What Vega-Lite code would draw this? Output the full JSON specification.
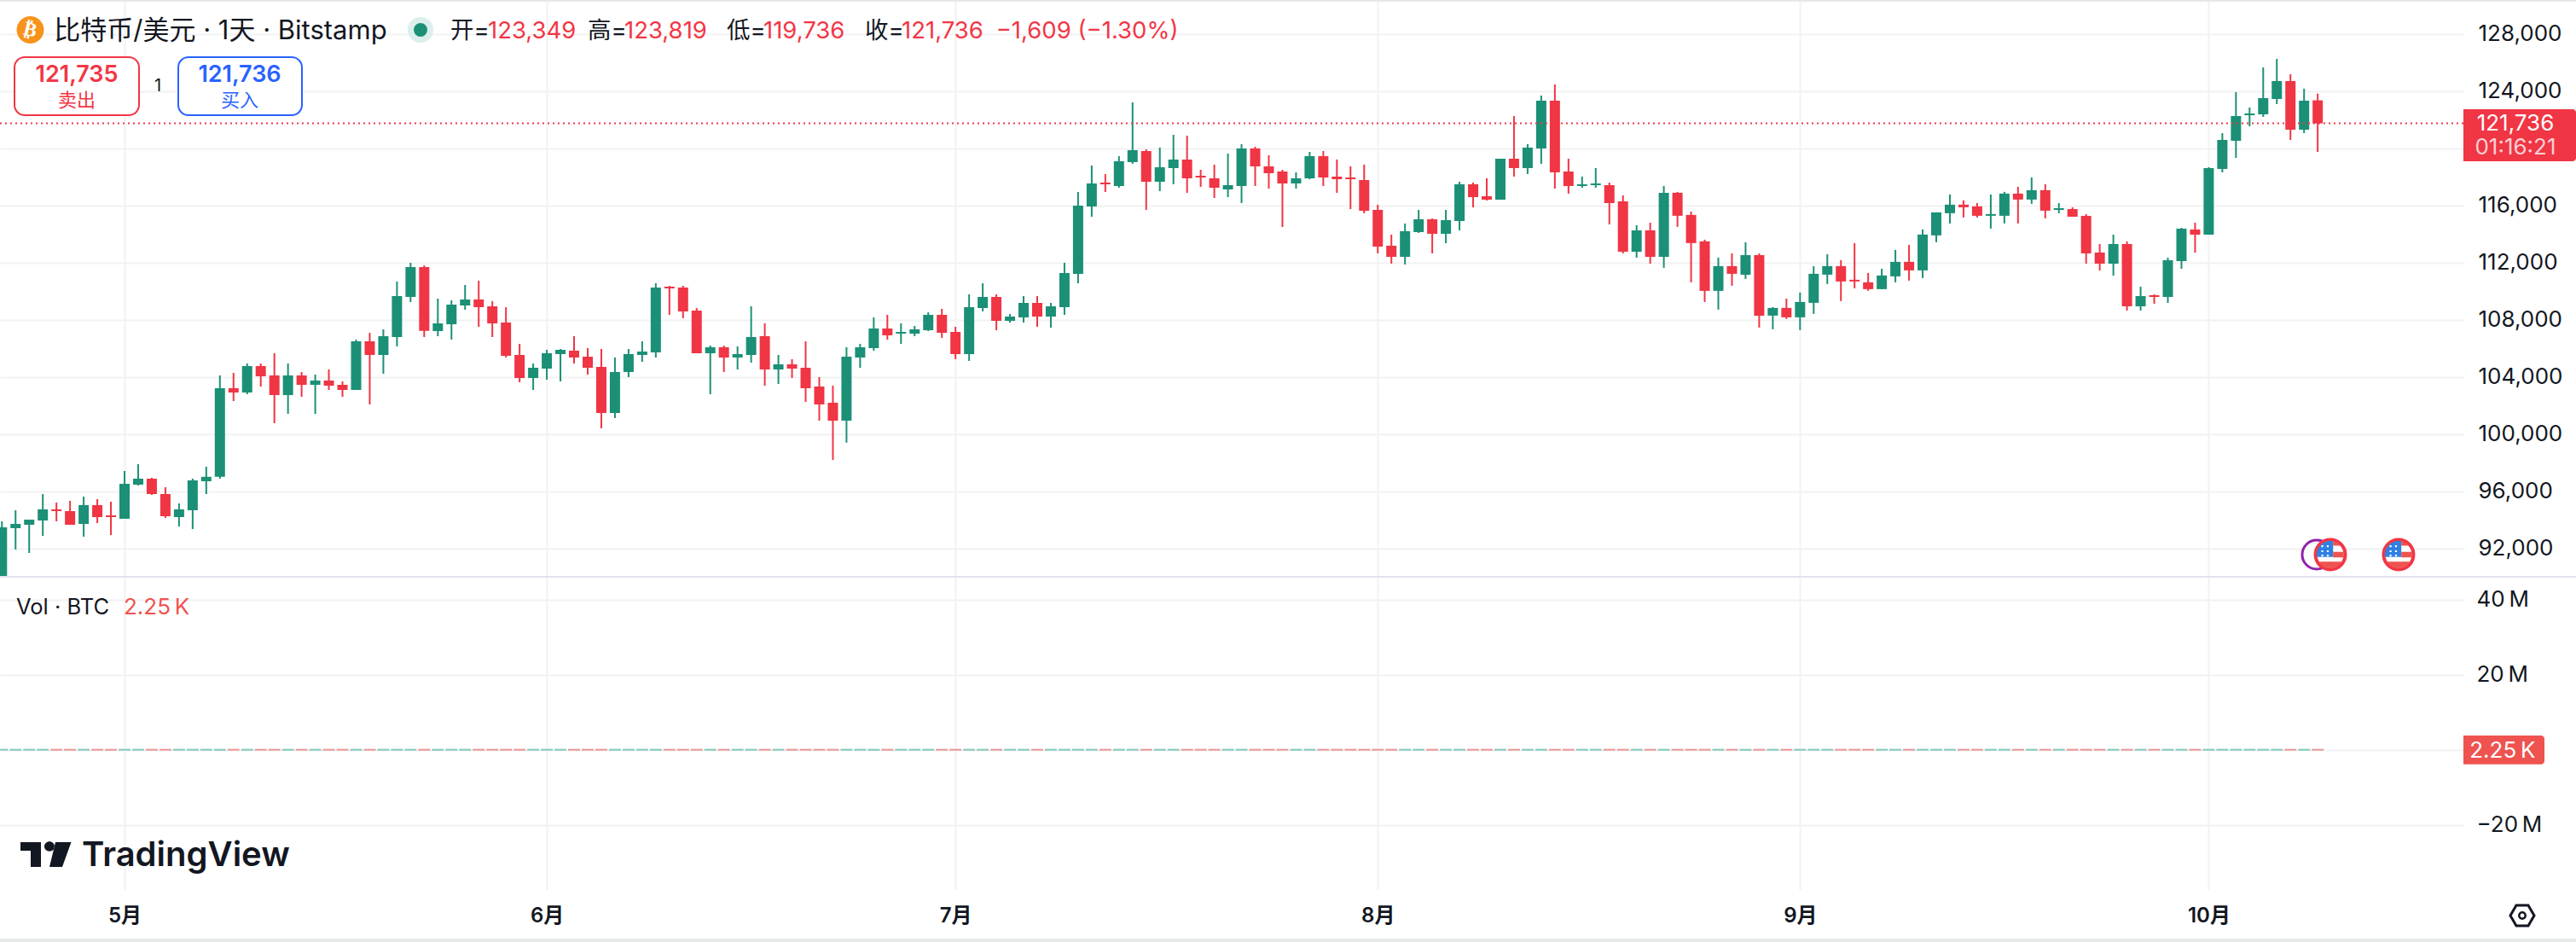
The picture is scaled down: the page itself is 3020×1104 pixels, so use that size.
{
"$schema":"https://vega.github.io/schema/vega-lite/v6.json",
"width":2888,"height":1043,
"autosize":"none",
"padding":{"left":0,"top":0,"right":132,"bottom":61},
"background":"white",
"config":{"view":{"stroke":null},"axis":{"title":null,"domain":false,"ticks":false,"gridColor":"#f1f2f3","gridWidth":2}},
"data":{"values":[{}]},
"datasets":{"candles":[
{"date":"2025-04-22","open":90012,"high":93892,"low":90012,"close":93474,"volume":3000},
{"date":"2025-04-23","open":93415,"high":94668,"low":91922,"close":93713,"volume":3000},
{"date":"2025-04-24","open":93654,"high":94012,"low":91683,"close":94012,"volume":3000},
{"date":"2025-04-25","open":93952,"high":95803,"low":92877,"close":94728,"volume":3000},
{"date":"2025-04-26","open":94728,"high":95206,"low":93892,"close":94608,"volume":3000},
{"date":"2025-04-27","open":94608,"high":95325,"low":93654,"close":93654,"volume":3000},
{"date":"2025-04-28","open":93713,"high":95624,"low":92818,"close":95027,"volume":3000},
{"date":"2025-04-29","open":95027,"high":95444,"low":93773,"close":94191,"volume":3000},
{"date":"2025-04-30","open":94310,"high":95265,"low":92937,"close":94191,"volume":3000},
{"date":"2025-05-01","open":94071,"high":97415,"low":94071,"close":96519,"volume":3000},
{"date":"2025-05-02","open":96460,"high":97892,"low":96400,"close":96877,"volume":3000},
{"date":"2025-05-03","open":96877,"high":96937,"low":95743,"close":95803,"volume":3000},
{"date":"2025-05-04","open":95803,"high":96280,"low":94131,"close":94250,"volume":3000},
{"date":"2025-05-05","open":94191,"high":95146,"low":93534,"close":94728,"volume":3000},
{"date":"2025-05-06","open":94668,"high":96877,"low":93355,"close":96758,"volume":3000},
{"date":"2025-05-07","open":96698,"high":97713,"low":95803,"close":97007,"volume":3000},
{"date":"2025-05-08","open":97007,"high":104101,"low":96877,"close":103205,"volume":3000},
{"date":"2025-05-09","open":103205,"high":104280,"low":102310,"close":102907,"volume":3000},
{"date":"2025-05-10","open":102907,"high":104937,"low":102788,"close":104757,"volume":3000},
{"date":"2025-05-11","open":104757,"high":104937,"low":103325,"close":104041,"volume":3000},
{"date":"2025-05-12","open":104101,"high":105653,"low":100758,"close":102728,"volume":3000},
{"date":"2025-05-13","open":102728,"high":104937,"low":101414,"close":104101,"volume":3000},
{"date":"2025-05-14","open":104101,"high":104340,"low":102608,"close":103444,"volume":3000},
{"date":"2025-05-15","open":103444,"high":104161,"low":101414,"close":103743,"volume":3000},
{"date":"2025-05-16","open":103743,"high":104519,"low":103086,"close":103385,"volume":3000},
{"date":"2025-05-17","open":103444,"high":103683,"low":102608,"close":103086,"volume":3000},
{"date":"2025-05-18","open":103086,"high":106608,"low":103086,"close":106489,"volume":3000},
{"date":"2025-05-19","open":106489,"high":107086,"low":102071,"close":105534,"volume":3000},
{"date":"2025-05-20","open":105534,"high":107325,"low":104220,"close":106847,"volume":3000},
{"date":"2025-05-21","open":106788,"high":110668,"low":106131,"close":109653,"volume":3000},
{"date":"2025-05-22","open":109593,"high":111981,"low":109235,"close":111683,"volume":3000},
{"date":"2025-05-23","open":111683,"high":111802,"low":106787,"close":107225,"volume":3000},
{"date":"2025-05-24","open":107205,"high":109474,"low":106847,"close":107743,"volume":3000},
{"date":"2025-05-25","open":107683,"high":109355,"low":106608,"close":109056,"volume":3000},
{"date":"2025-05-26","open":108996,"high":110429,"low":108698,"close":109414,"volume":3000},
{"date":"2025-05-27","open":109414,"high":110728,"low":107504,"close":108877,"volume":3000},
{"date":"2025-05-28","open":108937,"high":109295,"low":106787,"close":107743,"volume":3000},
{"date":"2025-05-29","open":107802,"high":108877,"low":105355,"close":105474,"volume":3000},
{"date":"2025-05-30","open":105534,"high":106310,"low":103623,"close":103922,"volume":3000},
{"date":"2025-05-31","open":103922,"high":104937,"low":103086,"close":104638,"volume":3000},
{"date":"2025-06-01","open":104579,"high":105892,"low":103802,"close":105653,"volume":3000},
{"date":"2025-06-02","open":105593,"high":105951,"low":103683,"close":105892,"volume":3000},
{"date":"2025-06-03","open":105832,"high":106847,"low":104937,"close":105355,"volume":3000},
{"date":"2025-06-04","open":105414,"high":106011,"low":104161,"close":104638,"volume":3000},
{"date":"2025-06-05","open":104698,"high":105951,"low":100400,"close":101474,"volume":3000},
{"date":"2025-06-06","open":101474,"high":105355,"low":101116,"close":104340,"volume":3000},
{"date":"2025-06-07","open":104340,"high":105951,"low":103982,"close":105593,"volume":3000},
{"date":"2025-06-08","open":105534,"high":106489,"low":105056,"close":105772,"volume":3000},
{"date":"2025-06-09","open":105713,"high":110548,"low":105355,"close":110250,"volume":3000},
{"date":"2025-06-10","open":110310,"high":110370,"low":108340,"close":110190,"volume":3000},
{"date":"2025-06-11","open":110250,"high":110370,"low":108101,"close":108578,"volume":3000},
{"date":"2025-06-12","open":108638,"high":108817,"low":105653,"close":105653,"volume":3000},
{"date":"2025-06-13","open":105653,"high":106190,"low":102788,"close":106071,"volume":3000},
{"date":"2025-06-14","open":106071,"high":106190,"low":104340,"close":105355,"volume":3000},
{"date":"2025-06-15","open":105355,"high":106131,"low":104519,"close":105593,"volume":3000},
{"date":"2025-06-16","open":105534,"high":108937,"low":104997,"close":106787,"volume":3000},
{"date":"2025-06-17","open":106847,"high":107743,"low":103385,"close":104519,"volume":3000},
{"date":"2025-06-18","open":104519,"high":105534,"low":103504,"close":104877,"volume":3000},
{"date":"2025-06-19","open":104877,"high":105235,"low":103922,"close":104579,"volume":3000},
{"date":"2025-06-20","open":104638,"high":106489,"low":102250,"close":103205,"volume":3000},
{"date":"2025-06-21","open":103325,"high":103982,"low":100937,"close":102071,"volume":3000},
{"date":"2025-06-22","open":102190,"high":103385,"low":98191,"close":100937,"volume":3000},
{"date":"2025-06-23","open":100937,"high":106072,"low":99400,"close":105415,"volume":3000},
{"date":"2025-06-24","open":105356,"high":106311,"low":104639,"close":106072,"volume":3000},
{"date":"2025-06-25","open":106012,"high":108162,"low":105833,"close":107385,"volume":3000},
{"date":"2025-06-26","open":107385,"high":108341,"low":106609,"close":106908,"volume":3000},
{"date":"2025-06-27","open":107027,"high":107744,"low":106311,"close":107147,"volume":3000},
{"date":"2025-06-28","open":107027,"high":107565,"low":106848,"close":107326,"volume":3000},
{"date":"2025-06-29","open":107266,"high":108520,"low":107206,"close":108341,"volume":3000},
{"date":"2025-06-30","open":108341,"high":108759,"low":106729,"close":107087,"volume":3000},
{"date":"2025-07-01","open":107147,"high":107505,"low":105236,"close":105595,"volume":3000},
{"date":"2025-07-02","open":105595,"high":109773,"low":105117,"close":108878,"volume":3000},
{"date":"2025-07-03","open":108818,"high":110550,"low":108580,"close":109594,"volume":3000},
{"date":"2025-07-04","open":109594,"high":109773,"low":107266,"close":107923,"volume":3000},
{"date":"2025-07-05","open":107923,"high":108400,"low":107803,"close":108221,"volume":3000},
{"date":"2025-07-06","open":108162,"high":109654,"low":107803,"close":109176,"volume":3000},
{"date":"2025-07-07","open":109176,"high":109654,"low":107505,"close":108221,"volume":3000},
{"date":"2025-07-08","open":108221,"high":109176,"low":107445,"close":108938,"volume":3000},
{"date":"2025-07-09","open":108878,"high":111982,"low":108341,"close":111266,"volume":3000},
{"date":"2025-07-10","open":111206,"high":116938,"low":110550,"close":115982,"volume":3000},
{"date":"2025-07-11","open":115923,"high":118788,"low":115206,"close":117535,"volume":3000},
{"date":"2025-07-12","open":117594,"high":118191,"low":116938,"close":117475,"volume":3000},
{"date":"2025-07-13","open":117355,"high":119445,"low":117236,"close":119087,"volume":3000},
{"date":"2025-07-14","open":119027,"high":123206,"low":118908,"close":119863,"volume":3000},
{"date":"2025-07-15","open":119803,"high":119922,"low":115684,"close":117654,"volume":3000},
{"date":"2025-07-16","open":117654,"high":120042,"low":116997,"close":118669,"volume":3000},
{"date":"2025-07-17","open":118609,"high":120937,"low":117475,"close":119206,"volume":3000},
{"date":"2025-07-18","open":119206,"high":120878,"low":116878,"close":117893,"volume":3000},
{"date":"2025-07-19","open":118072,"high":118490,"low":117296,"close":117952,"volume":3000},
{"date":"2025-07-20","open":117893,"high":118848,"low":116520,"close":117236,"volume":3000},
{"date":"2025-07-21","open":117117,"high":119624,"low":116579,"close":117415,"volume":3000},
{"date":"2025-07-22","open":117355,"high":120281,"low":116161,"close":119982,"volume":3000},
{"date":"2025-07-23","open":119982,"high":120102,"low":117355,"close":118729,"volume":3000},
{"date":"2025-07-24","open":118729,"high":119505,"low":117176,"close":118251,"volume":3000},
{"date":"2025-07-25","open":118370,"high":118490,"low":114490,"close":117535,"volume":3000},
{"date":"2025-07-26","open":117535,"high":118310,"low":117176,"close":117893,"volume":3000},
{"date":"2025-07-27","open":117893,"high":119743,"low":117833,"close":119445,"volume":3000},
{"date":"2025-07-28","open":119445,"high":119803,"low":117355,"close":117952,"volume":3000},
{"date":"2025-07-29","open":118012,"high":119206,"low":116878,"close":117833,"volume":3000},
{"date":"2025-07-30","open":117952,"high":118729,"low":115743,"close":117833,"volume":3000},
{"date":"2025-07-31","open":117773,"high":118848,"low":115445,"close":115624,"volume":3000},
{"date":"2025-08-01","open":115684,"high":116042,"low":112639,"close":113117,"volume":3000},
{"date":"2025-08-02","open":113176,"high":113952,"low":111923,"close":112400,"volume":3000},
{"date":"2025-08-03","open":112400,"high":114729,"low":111863,"close":114191,"volume":3000},
{"date":"2025-08-04","open":114132,"high":115684,"low":114072,"close":115027,"volume":3000},
{"date":"2025-08-05","open":115027,"high":115087,"low":112639,"close":114012,"volume":3000},
{"date":"2025-08-06","open":114012,"high":115684,"low":113356,"close":114967,"volume":3000},
{"date":"2025-08-07","open":114907,"high":117654,"low":114251,"close":117475,"volume":3000},
{"date":"2025-08-08","open":117475,"high":117594,"low":115863,"close":116579,"volume":3000},
{"date":"2025-08-09","open":116639,"high":117893,"low":116341,"close":116400,"volume":3000},
{"date":"2025-08-10","open":116400,"high":119266,"low":116400,"close":119266,"volume":3000},
{"date":"2025-08-11","open":119266,"high":122251,"low":118012,"close":118609,"volume":3000},
{"date":"2025-08-12","open":118609,"high":120281,"low":118191,"close":120042,"volume":3000},
{"date":"2025-08-13","open":119982,"high":123684,"low":118908,"close":123325,"volume":3000},
{"date":"2025-08-14","open":123325,"high":124460,"low":117176,"close":118311,"volume":3000},
{"date":"2025-08-15","open":118370,"high":119266,"low":116818,"close":117355,"volume":3000},
{"date":"2025-08-16","open":117355,"high":118012,"low":117236,"close":117475,"volume":3000},
{"date":"2025-08-17","open":117415,"high":118609,"low":117236,"close":117535,"volume":3000},
{"date":"2025-08-18","open":117415,"high":117594,"low":114669,"close":116161,"volume":3000},
{"date":"2025-08-19","open":116281,"high":116699,"low":112639,"close":112758,"volume":3000},
{"date":"2025-08-20","open":112758,"high":114609,"low":112341,"close":114251,"volume":3000},
{"date":"2025-08-21","open":114251,"high":114788,"low":111923,"close":112400,"volume":3000},
{"date":"2025-08-22","open":112406,"high":117361,"low":111630,"close":116884,"volume":3000},
{"date":"2025-08-23","open":116884,"high":116943,"low":114496,"close":115272,"volume":3000},
{"date":"2025-08-24","open":115332,"high":115570,"low":110615,"close":113362,"volume":3000},
{"date":"2025-08-25","open":113481,"high":113600,"low":109242,"close":110018,"volume":3000},
{"date":"2025-08-26","open":110018,"high":112347,"low":108705,"close":111750,"volume":3000},
{"date":"2025-08-27","open":111750,"high":112645,"low":110377,"close":111212,"volume":3000},
{"date":"2025-08-28","open":111153,"high":113421,"low":110854,"close":112526,"volume":3000},
{"date":"2025-08-29","open":112526,"high":112645,"low":107451,"close":108287,"volume":3000},
{"date":"2025-08-30","open":108287,"high":108884,"low":107332,"close":108824,"volume":3000},
{"date":"2025-08-31","open":108824,"high":109481,"low":108048,"close":108168,"volume":3000},
{"date":"2025-09-01","open":108168,"high":109899,"low":107272,"close":109242,"volume":3000},
{"date":"2025-09-02","open":109182,"high":111750,"low":108406,"close":111212,"volume":3000},
{"date":"2025-09-03","open":111153,"high":112585,"low":110496,"close":111750,"volume":3000},
{"date":"2025-09-04","open":111750,"high":112167,"low":109302,"close":110675,"volume":3000},
{"date":"2025-09-05","open":110794,"high":113362,"low":110197,"close":110675,"volume":3000},
{"date":"2025-09-06","open":110615,"high":111272,"low":110018,"close":110138,"volume":3000},
{"date":"2025-09-07","open":110138,"high":111570,"low":110138,"close":111093,"volume":3000},
{"date":"2025-09-08","open":111033,"high":112884,"low":110615,"close":112048,"volume":3000},
{"date":"2025-09-09","open":112048,"high":113242,"low":110735,"close":111451,"volume":3000},
{"date":"2025-09-10","open":111451,"high":114317,"low":110914,"close":113958,"volume":3000},
{"date":"2025-09-11","open":113899,"high":115511,"low":113421,"close":115511,"volume":3000},
{"date":"2025-09-12","open":115451,"high":116764,"low":114735,"close":116048,"volume":3000},
{"date":"2025-09-13","open":116048,"high":116347,"low":115153,"close":115869,"volume":3000},
{"date":"2025-09-14","open":115929,"high":116167,"low":115153,"close":115272,"volume":3000},
{"date":"2025-09-15","open":115272,"high":116764,"low":114376,"close":115391,"volume":3000},
{"date":"2025-09-16","open":115272,"high":116943,"low":114735,"close":116824,"volume":3000},
{"date":"2025-09-17","open":116824,"high":117302,"low":114735,"close":116406,"volume":3000},
{"date":"2025-09-18","open":116406,"high":117958,"low":116108,"close":117063,"volume":3000},
{"date":"2025-09-19","open":117063,"high":117481,"low":115093,"close":115630,"volume":3000},
{"date":"2025-09-20","open":115684,"high":116161,"low":115445,"close":115803,"volume":3000},
{"date":"2025-09-21","open":115744,"high":115863,"low":115206,"close":115206,"volume":3000},
{"date":"2025-09-22","open":115266,"high":115385,"low":111923,"close":112639,"volume":3000},
{"date":"2025-09-23","open":112698,"high":113296,"low":111445,"close":111923,"volume":3000},
{"date":"2025-09-24","open":111923,"high":113953,"low":111087,"close":113296,"volume":3000},
{"date":"2025-09-25","open":113296,"high":113475,"low":108639,"close":108938,"volume":3000},
{"date":"2025-09-26","open":108938,"high":110311,"low":108639,"close":109654,"volume":3000},
{"date":"2025-09-27","open":109714,"high":109773,"low":109117,"close":109594,"volume":3000},
{"date":"2025-09-28","open":109594,"high":112341,"low":109176,"close":112161,"volume":3000},
{"date":"2025-09-29","open":112102,"high":114430,"low":111564,"close":114370,"volume":3000},
{"date":"2025-09-30","open":114311,"high":114788,"low":112699,"close":113952,"volume":3000},
{"date":"2025-10-01","open":113952,"high":118669,"low":113952,"close":118609,"volume":3000},
{"date":"2025-10-02","open":118549,"high":121057,"low":118310,"close":120579,"volume":3000},
{"date":"2025-10-03","open":120519,"high":123922,"low":119326,"close":122251,"volume":3000},
{"date":"2025-10-04","open":122310,"high":122848,"low":121534,"close":122430,"volume":3000},
{"date":"2025-10-05","open":122370,"high":125654,"low":122191,"close":123504,"volume":3000},
{"date":"2025-10-06","open":123445,"high":126250,"low":123087,"close":124698,"volume":3000},
{"date":"2025-10-07","open":124698,"high":125176,"low":120579,"close":121296,"volume":3000},
{"date":"2025-10-08","open":121296,"high":124161,"low":121057,"close":123325,"volume":3000},
{"date":"2025-10-09","open":123349,"high":123819,"low":119736,"close":121736,"volume":2250}
]},
"layer":[
{"layer":[
 {"data":{"name":"candles"},
  "mark":{"type":"rule","strokeWidth":2,"clip":true},
  "encoding":{
   "x":{"field":"date","type":"temporal","scale":{"type":"utc","domain":[1745267700000,1760892200000],"padding":0},
     "axis":{"orient":"bottom","values":[1746057600000,1748736000000,1751328000000,1754006400000,1756684800000,1759276800000],"format":"%-m月","grid":true,"labelFont":"Inter, Noto Sans CJK SC","labelFontSize":24,"labelFontWeight":600,"labelColor":"#131722","labelPadding":18,"title":null}},
   "y":{"field":"low","type":"quantitative","scale":{"domain":[68102,130369],"nice":false,"zero":false},
     "axis":{"orient":"right","values":[92000,96000,100000,104000,108000,112000,116000,120000,124000,128000],"labelExpr":"datum.value===120000?'':format(datum.value,',d')","grid":true,"labelFont":"Inter","labelFontSize":26,"labelColor":"#131722","labelPadding":17,"title":null}},
   "y2":{"field":"high"},
   "color":{"condition":{"test":"datum.close>=datum.open","value":"#1b9076"},"value":"#f03544"}}},
 {"data":{"name":"candles"},
  "mark":{"type":"bar","width":12,"clip":true},
  "encoding":{
   "x":{"field":"date","type":"temporal"},
   "y":{"field":"open","type":"quantitative"},
   "y2":{"field":"close"},
   "color":{"condition":{"test":"datum.close>=datum.open","value":"#1b9076"},"value":"#f03544"}}},
 {"mark":{"type":"rule","color":"#f23645","strokeWidth":2,"strokeDash":[2,4]},
  "encoding":{"y":{"datum":121736,"type":"quantitative"}}},
 {"mark":{"type":"rule","color":"#e0e3eb","strokeWidth":2},
  "encoding":{"x":{"datum":1745267700000,"type":"temporal"},"x2":{"datum":1761606400000},"y":{"datum":90012,"type":"quantitative"}}},
 {"mark":{"type":"rule","color":"#e7e8e9","strokeWidth":3},
  "encoding":{"x":{"datum":1745267700000,"type":"temporal"},"x2":{"datum":1761606400000},"y":{"datum":130340,"type":"quantitative"}}},
 {"mark":{"type":"rule","color":"#e7e8e9","strokeWidth":4},
  "encoding":{"x":{"datum":1745267700000,"type":"temporal"},"x2":{"datum":1761606400000},"y":{"datum":64580,"type":"quantitative"}}},

 {"mark":{"type":"point","shape":"circle","filled":true,"color":"#f7931a","size":1018,"opacity":1},
  "encoding":{"x":{"datum":1745459800000,"type":"temporal"},"y":{"datum":128280,"type":"quantitative"}}},
 {"mark":{"type":"text","font":"DejaVu Sans","fontWeight":"bold","fontSize":23,"color":"white","angle":14,"align":"center","baseline":"middle"},
  "encoding":{"x":{"datum":1745459800000,"type":"temporal"},"y":{"datum":128280,"type":"quantitative"},"text":{"value":"₿"}}},
 {"mark":{"type":"text","font":"Inter, Noto Sans CJK SC","fontSize":31,"color":"#131722","align":"left","baseline":"middle"},
  "encoding":{"x":{"datum":1745610000000,"type":"temporal"},"y":{"datum":128180,"type":"quantitative"},"text":{"value":"比特币/美元 · 1天 · Bitstamp"}}},
 {"mark":{"type":"point","shape":"circle","filled":true,"color":"#ddefec","size":908,"opacity":1},
  "encoding":{"x":{"datum":1747934900000,"type":"temporal"},"y":{"datum":128280,"type":"quantitative"}}},
 {"mark":{"type":"point","shape":"circle","filled":true,"color":"#1b9076","size":254,"opacity":1},
  "encoding":{"x":{"datum":1747934900000,"type":"temporal"},"y":{"datum":128280,"type":"quantitative"}}},
 {"mark":{"type":"text","font":"Inter, Noto Sans CJK SC","fontSize":27.5,"color":"#131722","align":"left","baseline":"middle"},
  "encoding":{"x":{"datum":1748124300000,"type":"temporal"},"y":{"datum":128180,"type":"quantitative"},"text":{"value":"开="}}},
 {"mark":{"type":"text","font":"Inter","fontSize":27.5,"color":"#f23645","align":"left","baseline":"middle"},
  "encoding":{"x":{"datum":1748362300000,"type":"temporal"},"y":{"datum":128180,"type":"quantitative"},"text":{"value":"123,349"}}},
 {"mark":{"type":"text","font":"Inter, Noto Sans CJK SC","fontSize":27.5,"color":"#131722","align":"left","baseline":"middle"},
  "encoding":{"x":{"datum":1748995300000,"type":"temporal"},"y":{"datum":128180,"type":"quantitative"},"text":{"value":"高="}}},
 {"mark":{"type":"text","font":"Inter","fontSize":27.5,"color":"#f23645","align":"left","baseline":"middle"},
  "encoding":{"x":{"datum":1749227900000,"type":"temporal"},"y":{"datum":128180,"type":"quantitative"},"text":{"value":"123,819"}}},
 {"mark":{"type":"text","font":"Inter, Noto Sans CJK SC","fontSize":27.5,"color":"#131722","align":"left","baseline":"middle"},
  "encoding":{"x":{"datum":1749877200000,"type":"temporal"},"y":{"datum":128180,"type":"quantitative"},"text":{"value":"低="}}},
 {"mark":{"type":"text","font":"Inter","fontSize":27.5,"color":"#f23645","align":"left","baseline":"middle"},
  "encoding":{"x":{"datum":1750109800000,"type":"temporal"},"y":{"datum":128180,"type":"quantitative"},"text":{"value":"119,736"}}},
 {"mark":{"type":"text","font":"Inter, Noto Sans CJK SC","fontSize":27.5,"color":"#131722","align":"left","baseline":"middle"},
  "encoding":{"x":{"datum":1750753600000,"type":"temporal"},"y":{"datum":128180,"type":"quantitative"},"text":{"value":"收="}}},
 {"mark":{"type":"text","font":"Inter","fontSize":27.5,"color":"#f23645","align":"left","baseline":"middle"},
  "encoding":{"x":{"datum":1750986200000,"type":"temporal"},"y":{"datum":128180,"type":"quantitative"},"text":{"value":"121,736"}}},
 {"mark":{"type":"text","font":"Inter","fontSize":27.5,"color":"#f23645","align":"left","baseline":"middle"},
  "encoding":{"x":{"datum":1751585000000,"type":"temporal"},"y":{"datum":128180,"type":"quantitative"},"text":{"value":"−1,609 (−1.30%)"}}},

 {"mark":{"type":"rect","fill":"white","stroke":"#f23645","strokeWidth":2,"cornerRadius":12},
  "encoding":{"x":{"datum":1745359700000,"type":"temporal"},"x2":{"datum":1746149600000},"y":{"datum":126370,"type":"quantitative"},"y2":{"datum":122310}}},
 {"mark":{"type":"text","font":"Inter","fontSize":27,"fontWeight":600,"color":"#f23645","align":"center","baseline":"middle"},
  "encoding":{"x":{"datum":1745754600000,"type":"temporal"},"y":{"datum":125116,"type":"quantitative"},"text":{"value":"121,735"}}},
 {"mark":{"type":"text","font":"Noto Sans CJK SC","fontSize":22,"color":"#f23645","align":"center","baseline":"middle"},
  "encoding":{"x":{"datum":1745754600000,"type":"temporal"},"y":{"datum":123320,"type":"quantitative"},"text":{"value":"卖出"}}},
 {"mark":{"type":"text","font":"Inter","fontSize":20,"color":"#131722","align":"center","baseline":"middle"},
  "encoding":{"x":{"datum":1746268600000,"type":"temporal"},"y":{"datum":124340,"type":"quantitative"},"text":{"value":"1"}}},
 {"mark":{"type":"rect","fill":"white","stroke":"#2962ff","strokeWidth":2,"cornerRadius":12},
  "encoding":{"x":{"datum":1746398400000,"type":"temporal"},"x2":{"datum":1747182900000},"y":{"datum":126370,"type":"quantitative"},"y2":{"datum":122310}}},
 {"mark":{"type":"text","font":"Inter","fontSize":27,"fontWeight":600,"color":"#2962ff","align":"center","baseline":"middle"},
  "encoding":{"x":{"datum":1746788000000,"type":"temporal"},"y":{"datum":125116,"type":"quantitative"},"text":{"value":"121,736"}}},
 {"mark":{"type":"text","font":"Noto Sans CJK SC","fontSize":22,"color":"#2962ff","align":"center","baseline":"middle"},
  "encoding":{"x":{"datum":1746788000000,"type":"temporal"},"y":{"datum":123320,"type":"quantitative"},"text":{"value":"买入"}}},

 {"mark":{"type":"rect","fill":"#f03544","cornerRadiusTopRight":4,"cornerRadiusBottomRight":4},
  "encoding":{"x":{"datum":1760892200000,"type":"temporal"},"x2":{"datum":1761606400000},"y":{"datum":122728,"type":"quantitative"},"y2":{"datum":119086}}},
 {"mark":{"type":"text","font":"Inter","fontSize":26,"color":"white","align":"center","baseline":"middle"},
  "encoding":{"x":{"datum":1761222000000,"type":"temporal"},"y":{"datum":121733,"type":"quantitative"},"text":{"value":"121,736"}}},
 {"mark":{"type":"text","font":"Inter","fontSize":26,"color":"#fbd0d4","align":"center","baseline":"middle"},
  "encoding":{"x":{"datum":1761222000000,"type":"temporal"},"y":{"datum":120061,"type":"quantitative"},"text":{"value":"01:16:21"}}},

 {"mark":{"type":"point","shape":"circle","filled":true,"fill":"white","stroke":"#8e24aa","strokeWidth":3,"size":1158,"opacity":1},
  "encoding":{"x":{"datum":1759961700000,"type":"temporal"},"y":{"datum":91564,"type":"quantitative"}}},
 {"data":{"values":[{"date":"2025-10-09T22:20:00Z"},{"date":"2025-10-14T22:30:00Z"}]},
  "encoding":{"x":{"field":"date","type":"temporal"},"y":{"datum":91564,"type":"quantitative"}},
  "layer":[
   {"mark":{"type":"point","shape":"circle","filled":true,"fill":"white","stroke":"#f23645","strokeWidth":4,"size":1219,"opacity":1}},
   {"mark":{"type":"point","filled":true,"color":"#2f80e4","size":1024,"opacity":1,"shape":"M-0.985,0.17A1,1 0 0 1 0.2,-0.98L0.2,0.17Z"}},
   {"mark":{"type":"point","filled":true,"color":"#ef5350","size":1024,"opacity":1,"shape":"M0.2,-0.98A1,1 0 0 1 0.75,-0.66L0.2,-0.66Z M0.2,-0.2L0.98,-0.2L0.98,0.2L0.2,0.2Z M-0.85,0.52L0.85,0.52A1,1 0 0 1 -0.85,0.52Z"}},
   {"mark":{"type":"point","filled":true,"color":"white","size":1024,"opacity":1,"shape":"M-0.66,-0.68h0.14v0.14h-0.14z M-0.26,-0.68h0.14v0.14h-0.14z M-0.66,-0.32h0.14v0.14h-0.14z M-0.26,-0.32h0.14v0.14h-0.14z M-0.66,0h0.14v0.14h-0.14z M-0.26,0h0.14v0.14h-0.14z"}}
  ]},

 {"mark":{"type":"text","font":"Inter","fontSize":25.5,"color":"#131722","align":"left","baseline":"middle"},
  "encoding":{"x":{"datum":1745370500000,"type":"temporal"},"y":{"datum":87860,"type":"quantitative"},"text":{"value":"Vol · BTC"}}},
 {"mark":{"type":"text","font":"Inter","fontSize":26,"color":"#ef5350","align":"left","baseline":"middle"},
  "encoding":{"x":{"datum":1746052000000,"type":"temporal"},"y":{"datum":87860,"type":"quantitative"},"text":{"value":"2.25\u2009K"}}},
 {"mark":{"type":"rect","fill":"#ef5350","cornerRadiusTopRight":4,"cornerRadiusBottomRight":4},
  "encoding":{"x":{"datum":1760892200000,"type":"temporal"},"x2":{"datum":1761406200000},"y":{"datum":78908,"type":"quantitative"},"y2":{"datum":76896}}},
 {"mark":{"type":"text","font":"Inter","fontSize":26,"color":"white","align":"center","baseline":"middle"},
  "encoding":{"x":{"datum":1761140000000,"type":"temporal"},"y":{"datum":77851,"type":"quantitative"},"text":{"value":"2.25\u2009K"}}},

 {"mark":{"type":"point","filled":true,"color":"#131722","size":3600,"opacity":1,"shape":"M-1,-0.483L-0.2,-0.483L-0.2,0.483L-0.6,0.483L-0.6,-0.15L-1,-0.15Z M0.367,-0.483L0.983,-0.483L0.633,0.483L0.133,0.483Z M-0.067,-0.317A0.2,0.19 0 1 0 0.333,-0.317A0.2,0.19 0 1 0 -0.067,-0.317Z"},
  "encoding":{"x":{"datum":1745559900000,"type":"temporal"},"y":{"datum":70579,"type":"quantitative"}}},
 {"mark":{"type":"text","font":"Inter","fontSize":40,"fontWeight":600,"color":"#131722","align":"left","baseline":"middle"},
  "encoding":{"x":{"datum":1745787000000,"type":"temporal"},"y":{"datum":70480,"type":"quantitative"},"text":{"value":"TradingView"}}},

 {"mark":{"type":"point","filled":false,"color":"#131722","strokeWidth":3,"size":784,"opacity":1,"shape":"M-1,0L-0.5,-0.866L0.5,-0.866L1,0L0.5,0.866L-0.5,0.866Z"},
  "encoding":{"x":{"datum":1761265500000,"type":"temporal"},"y":{"datum":66311,"type":"quantitative"}}},
 {"mark":{"type":"point","shape":"circle","filled":false,"color":"#131722","strokeWidth":2.5,"size":55,"opacity":1},
  "encoding":{"x":{"datum":1761265500000,"type":"temporal"},"y":{"datum":66311,"type":"quantitative"}}}
]},
{"data":{"name":"candles"},
 "mark":{"type":"tick","orient":"horizontal","size":14,"thickness":2,"clip":true,"opacity":1},
 "encoding":{
  "x":{"field":"date","type":"temporal"},
  "y":{"field":"volume","type":"quantitative","scale":{"domain":[-37340000,199700000],"nice":false,"zero":false},
    "axis":{"orient":"right","values":[-20000000,0,20000000,40000000],"grid":true,"labelExpr":"datum.value===0?'':(datum.value<0?'−':'')+abs(datum.value)/1000000+'\u2009M'","labelFont":"Inter","labelFontSize":26,"labelColor":"#131722","labelPadding":15,"title":null}},
  "color":{"condition":{"test":"datum.close>=datum.open","value":"#82c8bc"},"value":"#e99696"}}}
],
"resolve":{"scale":{"y":"independent"},"axis":{"y":"independent"}}
}
